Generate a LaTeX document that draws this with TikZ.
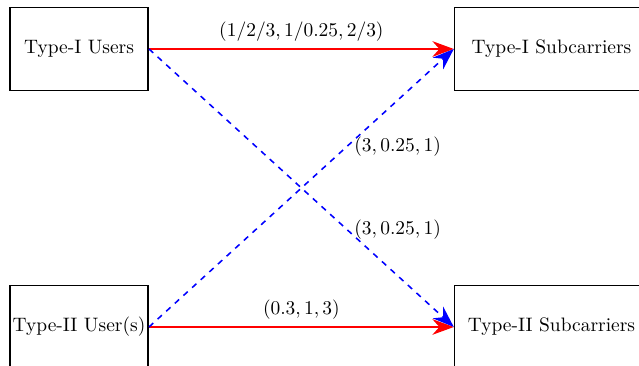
\documentclass[tikz,border=0pt]{standalone}
\usetikzlibrary{arrows.meta}
\begin{document}
\begin{tikzpicture}[x=0.5139pt,y=-0.5139pt,
  userbox/.style={draw,line width=0.8pt,minimum width=2.5cm,minimum height=1.5cm,inner sep=1pt},
  subbox/.style={draw,line width=0.8pt,minimum width=3.5cm,minimum height=1.5cm},
  redarrow/.style={draw=red,line width=1pt,-{Stealth[length=11pt,width=8pt]}},
  bluearrow/.style={draw=blue,line width=0.8pt,dashed,-{Stealth[length=11pt,width=8pt]}},
  lbl/.style={font=\normalsize,text=black}]
\useasboundingbox (0,0) rectangle (639,366);
\node[userbox] (u1) at (79,49) {Type-I Users};
\node[userbox] (u2) at (79,327) {Type-II User(s)};
\node[subbox] (s1) at (551.5,49) {Type-I Subcarriers};
\node[subbox] (s2) at (551.5,327) {Type-II Subcarriers};
\path[redarrow] (u1.east) -- node[above,lbl] {$(1/2/3,1/0.25,2/3)$} (s1.west);
\path[redarrow] (u2.east) -- node[above,lbl] {$(0.3,1,3)$} (s2.west);
\path[bluearrow] (u1.east) -- node[pos=0.65,right,lbl] {$(3,0.25,1)$} (s2.west);
\path[bluearrow] (u2.east) -- node[pos=0.65,right,lbl] {$(3,0.25,1)$} (s1.west);
\end{tikzpicture}
\end{document}
